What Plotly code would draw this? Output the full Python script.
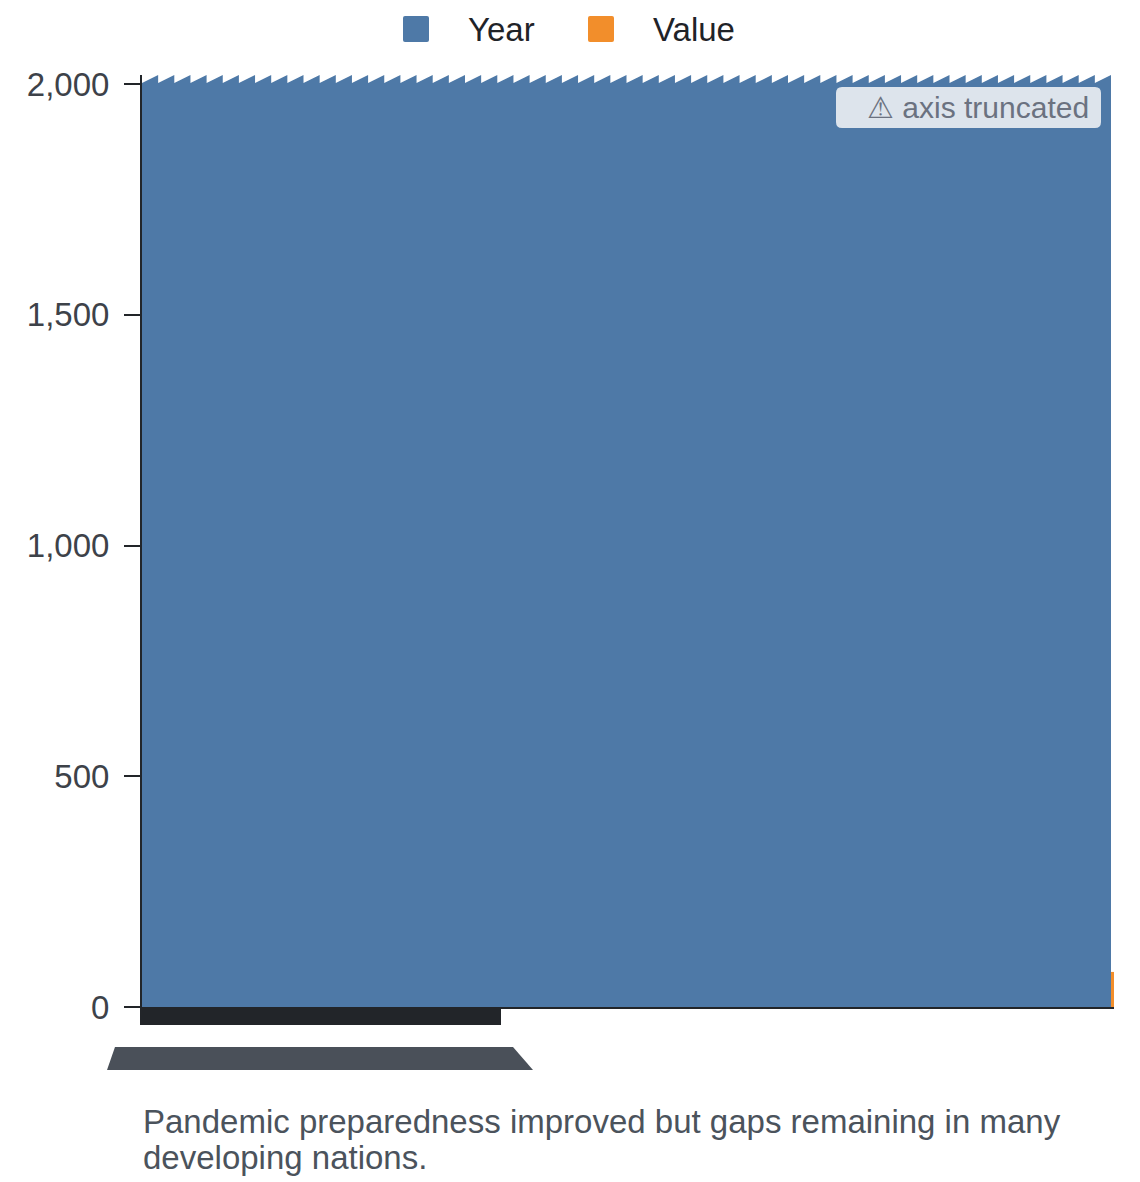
import plotly.graph_objects as go

# data
series_names = ["Year", "Value"]
series_colors = ["#4e79a7", "#f28e2b"]
categories = [0]
year_values = [2023]
value_values = [76]
y_ticks = [0, 500, 1000, 1500, 2000]
caption_lines = ["Pandemic preparedness improved but gaps remaining in many", "developing nations."]

# the page puts the figure 8px in from the top-left corner
OFF = 8
W, H = 1140, 1182
left, right, top, bottom = 142, 1114, 75, 1007   # plot area on screen
plot_w = right - left
plot_h = bottom - top
font = "Liberation Sans, Arial, sans-serif"
y_top = 2020
sliver = 0.0031


def px_x(px):
    '''screen column -> paper x'''
    return (px - left) / plot_w


def px_y(py):
    '''screen row -> paper y'''
    return (bottom - py) / plot_h


def rounded_rect(x0, y0, x1, y1, r):
    '''rounded rectangle path in paper coords from screen corners'''
    pts = [
        f"M {px_x(x0 + r)},{px_y(y0)}",
        f"L {px_x(x1 - r)},{px_y(y0)}",
        f"Q {px_x(x1)},{px_y(y0)} {px_x(x1)},{px_y(y0 + r)}",
        f"L {px_x(x1)},{px_y(y1 - r)}",
        f"Q {px_x(x1)},{px_y(y1)} {px_x(x1 - r)},{px_y(y1)}",
        f"L {px_x(x0 + r)},{px_y(y1)}",
        f"Q {px_x(x0)},{px_y(y1)} {px_x(x0)},{px_y(y1 - r)}",
        f"L {px_x(x0)},{px_y(y0 + r)}",
        f"Q {px_x(x0)},{px_y(y0)} {px_x(x0 + r)},{px_y(y0)} Z",
    ]
    return " ".join(pts)


fig = go.Figure()
fig.add_trace(go.Bar(x=categories, y=year_values, name=series_names[0], width=1, offset=-0.5,
                     marker=dict(color=series_colors[0], line=dict(width=0)), showlegend=False))
fig.add_trace(go.Bar(x=categories, y=value_values, name=series_names[1], width=sliver, offset=0.5,
                     marker=dict(color=series_colors[1], line=dict(width=0)), showlegend=False))

shapes = []

# sawtooth break along the truncated top of the bar
teeth = 60
tooth = 1 / teeth
low = y_top - 8 * y_top / plot_h
saw = ""
for i in range(teeth):
    x0 = -0.5 + i * tooth
    saw += f"M {x0},{y_top} L {x0},{low} L {x0 + tooth},{y_top} Z "
shapes.append(dict(type="path", xref="x", yref="y", path=saw, fillcolor="white", line=dict(width=0)))

# overlapped x tick labels that render as dark blocks
shapes.append(dict(type="rect", xref="paper", yref="paper", x0=px_x(140), x1=px_x(501),
                   y0=px_y(1025), y1=px_y(1008), fillcolor="#222529", line=dict(width=0)))
para = (f"M {px_x(115)},{px_y(1047)} L {px_x(513)},{px_y(1047)} "
        f"L {px_x(533)},{px_y(1070)} L {px_x(107)},{px_y(1070)} Z")
shapes.append(dict(type="path", xref="paper", yref="paper", path=para,
                   fillcolor="#4a5059", line=dict(width=0)))

# truncation badge
shapes.append(dict(type="path", xref="paper", yref="paper", path=rounded_rect(836, 87, 1101, 128, 6),
                   fillcolor="#dde4ec", line=dict(width=0)))

annotations = [
    dict(text="⚠ axis truncated", xref="paper", yref="paper", x=px_x(1091), y=px_y(107.5),
         xanchor="right", yanchor="middle", showarrow=False,
         font=dict(family=font, size=30, color="#6b7280")),
]
for i, line in enumerate(caption_lines):
    annotations.append(dict(text=line, xref="paper", yref="paper", x=px_x(141), y=px_y(1121 + 36 * i),
                            xanchor="left", yanchor="middle", showarrow=False,
                            font=dict(family=font, size=33, color="#4b535c")))

# legend drawn by hand so the swatches match the reference size
legend_x = [403, 588]
for name, color, lx in zip(series_names, series_colors, legend_x):
    shapes.append(dict(type="path", xref="paper", yref="paper", path=rounded_rect(lx, 16, lx + 26, 42, 2),
                       fillcolor=color, line=dict(width=0)))
    annotations.append(dict(text=name, xref="paper", yref="paper", x=px_x(lx + 63), y=px_y(29),
                            xanchor="left", yanchor="middle", showarrow=False,
                            font=dict(family=font, size=33, color="#1f2328")))

fig.update_layout(
    width=W, height=H,
    margin=dict(l=left - OFF, r=W - (right - OFF), t=top - OFF, b=H - (bottom - OFF), pad=0),
    paper_bgcolor="white", plot_bgcolor="white",
    barmode="overlay",
    showlegend=False,
    shapes=shapes,
    annotations=annotations,
    xaxis=dict(range=[-0.5, 0.5 + sliver], showticklabels=False, ticks="", showgrid=False, zeroline=False,
               showline=True, linecolor="#222529", linewidth=2, fixedrange=True),
    yaxis=dict(range=[0, y_top], tickvals=y_ticks, tickformat=",", ticks="outside", ticklen=16,
               tickwidth=2, tickcolor="#222529", showline=True, linecolor="#222529", linewidth=2,
               showgrid=False, zeroline=False, fixedrange=True, ticklabelstandoff=8,
               tickfont=dict(family=font, size=33, color="#3d4249")),
)

fig.write_html("out.html")
